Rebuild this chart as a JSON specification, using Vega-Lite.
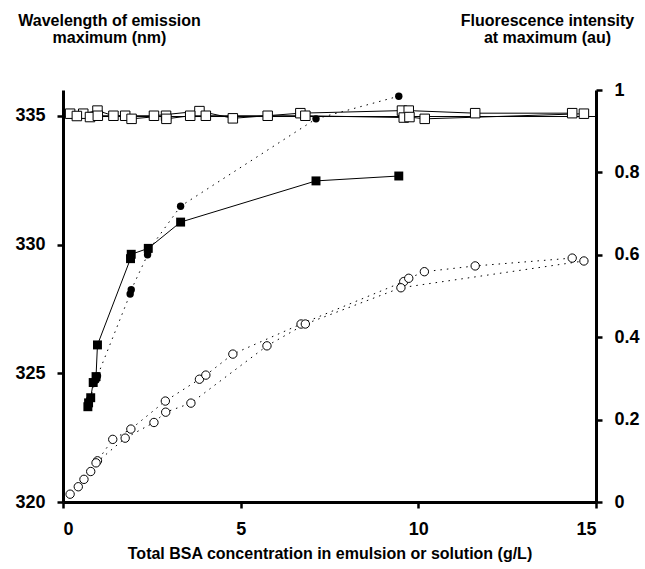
{
  "$schema": "https://vega.github.io/schema/vega-lite/v6.json",
  "width": 533,
  "height": 412,
  "autosize": "none",
  "padding": {"left": 63, "top": 90, "right": 49, "bottom": 67},
  "background": "white",
  "config": {
    "view": {"stroke": null},
    "font": "Liberation Sans",
    "axis": {
      "grid": false,
      "domainColor": "black",
      "domainWidth": 3,
      "tickColor": "black",
      "tickWidth": 2.5,
      "tickSize": 6,
      "labelFont": "Liberation Sans",
      "labelFontSize": 18,
      "labelFontWeight": "bold",
      "labelColor": "black",
      "titleFont": "Liberation Sans",
      "titleFontSize": 16,
      "titleFontWeight": "bold",
      "titleColor": "black"
    }
  },
  "datasets": {
    "openSq": [
      {"x": 0.2, "nm": 335.08, "s": "a"}, {"x": 0.57, "nm": 335.08, "s": "a"}, {"x": 0.97, "nm": 335.2, "s": "a"},
      {"x": 1.42, "nm": 335.0, "s": "a"}, {"x": 2.56, "nm": 335.0, "s": "a"}, {"x": 3.84, "nm": 335.18, "s": "a"},
      {"x": 4.78, "nm": 334.9, "s": "a"}, {"x": 6.68, "nm": 335.1, "s": "a"}, {"x": 9.54, "nm": 335.2, "s": "a"},
      {"x": 9.73, "nm": 335.2, "s": "a"}, {"x": 11.6, "nm": 335.1, "s": "a"}, {"x": 14.33, "nm": 335.1, "s": "a"},
      {"x": 0.39, "nm": 334.99, "s": "b"}, {"x": 0.76, "nm": 334.95, "s": "b"}, {"x": 0.98, "nm": 335.0, "s": "b"},
      {"x": 1.75, "nm": 335.0, "s": "b"}, {"x": 1.93, "nm": 334.88, "s": "b"}, {"x": 2.9, "nm": 335.0, "s": "b"},
      {"x": 2.91, "nm": 334.88, "s": "b"}, {"x": 3.58, "nm": 335.0, "s": "b"}, {"x": 4.02, "nm": 335.0, "s": "b"},
      {"x": 5.76, "nm": 335.0, "s": "b"}, {"x": 6.82, "nm": 335.0, "s": "b"}, {"x": 9.59, "nm": 334.93, "s": "b"},
      {"x": 9.75, "nm": 334.95, "s": "b"}, {"x": 10.18, "nm": 334.88, "s": "b"}, {"x": 14.66, "nm": 335.08, "s": "b"}
    ],
    "filledSq": [
      {"x": 0.7, "nm": 323.7}, {"x": 0.72, "nm": 323.85}, {"x": 0.78, "nm": 324.05}, {"x": 0.85, "nm": 324.64},
      {"x": 0.93, "nm": 324.87}, {"x": 0.97, "nm": 326.1}, {"x": 1.9, "nm": 329.45}, {"x": 1.92, "nm": 329.62},
      {"x": 2.4, "nm": 329.85}, {"x": 3.31, "nm": 330.87}, {"x": 7.12, "nm": 332.47}, {"x": 9.45, "nm": 332.66}
    ],
    "refLine": [{"nm": 334.97}],
    "filledCi": [
      {"x": 0.75, "au": 0.248}, {"x": 0.93, "au": 0.296}, {"x": 0.97, "au": 0.306}, {"x": 1.89, "au": 0.505},
      {"x": 1.92, "au": 0.515}, {"x": 2.38, "au": 0.6}, {"x": 2.4, "au": 0.61}, {"x": 3.31, "au": 0.718},
      {"x": 7.12, "au": 0.93}, {"x": 9.45, "au": 0.985}
    ],
    "openCi": [
      {"x": 0.2, "au": 0.019, "s": "a"}, {"x": 0.43, "au": 0.037, "s": "a"}, {"x": 0.59, "au": 0.055, "s": "a"},
      {"x": 0.78, "au": 0.074, "s": "a"}, {"x": 0.97, "au": 0.1, "s": "a"}, {"x": 1.4, "au": 0.152, "s": "a"},
      {"x": 1.91, "au": 0.177, "s": "a"}, {"x": 2.88, "au": 0.245, "s": "a"}, {"x": 3.84, "au": 0.298, "s": "a"},
      {"x": 4.02, "au": 0.308, "s": "a"}, {"x": 4.78, "au": 0.359, "s": "a"}, {"x": 6.7, "au": 0.432, "s": "a"},
      {"x": 9.59, "au": 0.535, "s": "a"}, {"x": 9.73, "au": 0.543, "s": "a"}, {"x": 10.17, "au": 0.559, "s": "a"},
      {"x": 11.6, "au": 0.573, "s": "a"}, {"x": 14.33, "au": 0.592, "s": "a"},
      {"x": 0.93, "au": 0.095, "s": "b"}, {"x": 1.75, "au": 0.155, "s": "b"}, {"x": 2.56, "au": 0.193, "s": "b"},
      {"x": 2.89, "au": 0.218, "s": "b"}, {"x": 3.6, "au": 0.24, "s": "b"}, {"x": 5.74, "au": 0.379, "s": "b"},
      {"x": 6.82, "au": 0.432, "s": "b"}, {"x": 9.51, "au": 0.52, "s": "b"}, {"x": 14.66, "au": 0.585, "s": "b"}
    ]
  },
  "layer": [
    {
      "layer": [
        {
          "data": {"name": "refLine"},
          "mark": {"type": "rule", "color": "black", "strokeWidth": 1},
          "encoding": {
            "y": {"field": "nm", "type": "quantitative",
              "scale": {"domain": [320, 336], "zero": false, "nice": false},
              "axis": {
                "values": [320, 325, 330, 335],
                "labelPadding": 12,
                "title": ["Wavelength of emission", "maximum (nm)"],
                "titleAngle": 0,
                "titleAlign": "center",
                "titleAnchor": null,
                "titleBaseline": "alphabetic",
                "titleX": 46,
                "titleY": -65,
                "titleLineHeight": 17
              }
            }
          }
        },
        {
          "data": {"name": "openSq"},
          "mark": {"type": "line", "color": "black", "strokeWidth": 1},
          "encoding": {
            "x": {"field": "x", "type": "quantitative", "scale": {"domain": [0, 15], "nice": false},
              "axis": {"values": [0, 5, 10, 15], "labelPadding": 12, "title": "Total BSA concentration in emulsion or solution (g/L)", "titlePadding": 7}},
            "y": {"field": "nm", "type": "quantitative"},
            "detail": {"field": "s"}
          }
        },
        {
          "data": {"name": "openSq"},
          "mark": {"type": "point", "shape": "square", "filled": true, "fill": "white", "stroke": "black", "strokeWidth": 1, "size": 90, "opacity": 1},
          "encoding": {
            "x": {"field": "x", "type": "quantitative"},
            "y": {"field": "nm", "type": "quantitative"}
          }
        },
        {
          "data": {"name": "filledSq"},
          "mark": {"type": "line", "color": "black", "strokeWidth": 1},
          "encoding": {
            "x": {"field": "x", "type": "quantitative"},
            "y": {"field": "nm", "type": "quantitative"}
          }
        },
        {
          "data": {"name": "filledSq"},
          "mark": {"type": "point", "shape": "square", "filled": true, "color": "black", "size": 80, "opacity": 1},
          "encoding": {
            "x": {"field": "x", "type": "quantitative"},
            "y": {"field": "nm", "type": "quantitative"}
          }
        }
      ]
    },
    {
      "layer": [
        {
          "data": {"name": "filledCi"},
          "mark": {"type": "line", "color": "black", "strokeWidth": 1, "strokeDash": [1.5, 5]},
          "encoding": {
            "x": {"field": "x", "type": "quantitative", "scale": {"domain": [0, 15], "nice": false},
              "axis": {"values": [0, 5, 10, 15], "labelPadding": 12, "title": "Total BSA concentration in emulsion or solution (g/L)", "titlePadding": 7}},
            "y": {"field": "au", "type": "quantitative",
              "scale": {"domain": [0, 1], "nice": false},
              "axis": {
                "orient": "right",
                "values": [0, 0.2, 0.4, 0.6, 0.8, 1],
                "format": "~g",
                "labelPadding": 12,
                "title": ["Fluorescence intensity", "at maximum (au)"],
                "titleAngle": 0,
                "titleAlign": "center",
                "titleAnchor": null,
                "titleBaseline": "alphabetic",
                "titleX": -49,
                "titleY": -65,
                "titleLineHeight": 17
              }
            }
          }
        },
        {
          "data": {"name": "filledCi"},
          "mark": {"type": "point", "shape": "circle", "filled": true, "color": "black", "size": 55, "opacity": 1},
          "encoding": {
            "x": {"field": "x", "type": "quantitative"},
            "y": {"field": "au", "type": "quantitative"}
          }
        },
        {
          "data": {"name": "openCi"},
          "mark": {"type": "line", "color": "black", "strokeWidth": 1, "strokeDash": [1.5, 5]},
          "encoding": {
            "x": {"field": "x", "type": "quantitative"},
            "y": {"field": "au", "type": "quantitative"},
            "detail": {"field": "s"}
          }
        },
        {
          "data": {"name": "openCi"},
          "mark": {"type": "point", "shape": "circle", "filled": true, "fill": "white", "stroke": "black", "strokeWidth": 1, "size": 70, "opacity": 1},
          "encoding": {
            "x": {"field": "x", "type": "quantitative"},
            "y": {"field": "au", "type": "quantitative"}
          }
        }
      ]
    }
  ],
  "resolve": {"scale": {"y": "independent"}}
}
